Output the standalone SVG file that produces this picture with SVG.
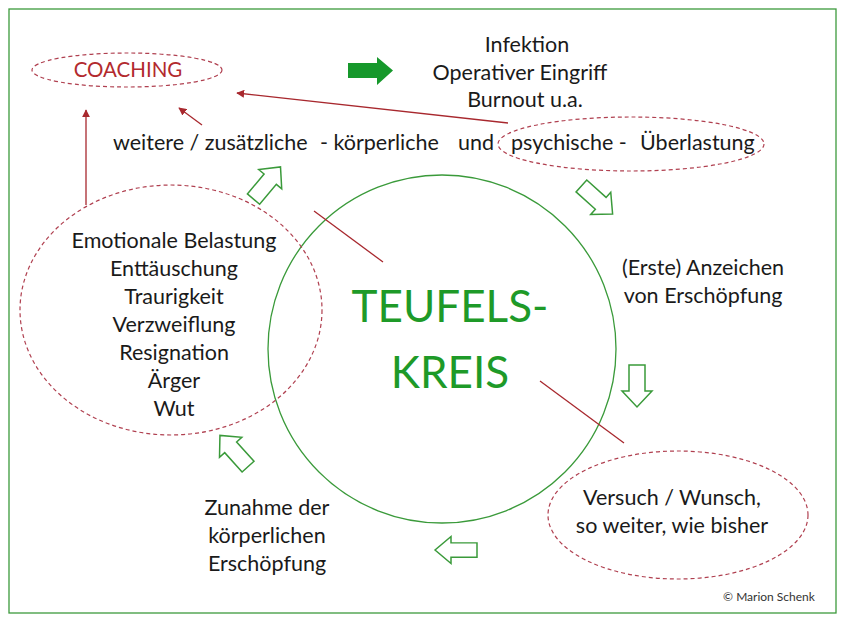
<svg xmlns="http://www.w3.org/2000/svg" width="846" height="624" viewBox="0 0 846 624">
<style>
.t{font-family:Lato,"Open Sans","Liberation Sans",sans-serif;font-size:21.5px;fill:#1a1a1a;text-anchor:middle}
.tl{font-family:Lato,"Open Sans","Liberation Sans",sans-serif;font-size:21.5px;fill:#1a1a1a}
.dash{fill:none;stroke:#b04050;stroke-width:1.2;stroke-dasharray:4 3}
.red{stroke:#a8282e;stroke-width:1.3;fill:none}
.hol{fill:#fff;stroke:#3a9a3a;stroke-width:1.5;stroke-linejoin:miter}
</style>
<defs>
<marker id="ah" viewBox="0 0 10 10" refX="9" refY="5" markerWidth="8" markerHeight="8" markerUnits="userSpaceOnUse" orient="auto">
<path d="M0,0 L10,5 L0,10 z" fill="#a8282e"/>
</marker>
<path id="blk" d="M-21,-8 L5,-8 L5,-15 L21,0 L5,15 L5,8 L-21,8 Z"/>
</defs>
<rect x="0" y="0" width="846" height="624" fill="#fff"/>
<rect x="9" y="9" width="827" height="604" fill="none" stroke="#3c9a3c" stroke-width="1.3"/>

<g id="circle">
<circle cx="442" cy="349" r="174" fill="none" stroke="#3a9a3a" stroke-width="1.3"/>
<text x="450" y="322" style="font-family:Lato,'Open Sans','Liberation Sans',sans-serif;font-size:44px;fill:#1e9a28;text-anchor:middle">TEUFELS-</text>
<text x="450" y="388" style="font-family:Lato,'Open Sans','Liberation Sans',sans-serif;font-size:44px;fill:#1e9a28;text-anchor:middle">KREIS</text>
</g>

<g id="coaching">
<ellipse class="dash" cx="127" cy="70" rx="95" ry="17"/>
<text x="128" y="77" style="font-family:Lato,'Open Sans','Liberation Sans',sans-serif;font-size:20.5px;fill:#b22a2e;text-anchor:middle">COACHING</text>
</g>

<g id="infektion">
<path d="M348,63 L377,63 L377,57 L393,70.5 L377,85 L377,78 L348,78 Z" fill="#16982b"/>
<text class="t" x="527" y="52">Infektion</text>
<text class="t" x="520" y="80">Operativer Eingriff</text>
<text class="t" x="525" y="107">Burnout u.a.</text>
</g>

<g id="ueberlastung">
<text class="tl" x="113" y="150">weitere / zusätzliche</text>
<text class="tl" x="320" y="150">- körperliche</text>
<text class="tl" x="458" y="150">und</text>
<ellipse class="dash" cx="631" cy="144" rx="133" ry="27"/>
<text class="tl" x="511" y="150">psychische -</text>
<text class="tl" x="640" y="150">Überlastung</text>
</g>

<g id="anzeichen">
<text class="t" x="703" y="275">(Erste) Anzeichen</text>
<text class="t" x="703" y="303">von Erschöpfung</text>
</g>

<g id="versuch">
<ellipse class="dash" cx="678" cy="515" rx="130" ry="64"/>
<text class="t" x="672" y="505">Versuch / Wunsch,</text>
<text class="t" x="672" y="533">so weiter, wie bisher</text>
</g>

<g id="zunahme">
<text class="t" x="267" y="515">Zunahme der</text>
<text class="t" x="267" y="543">körperlichen</text>
<text class="t" x="267" y="571">Erschöpfung</text>
</g>

<g id="emotionen">
<ellipse class="dash" cx="171" cy="310" rx="151" ry="125"/>
<text class="t" x="174" y="248">Emotionale Belastung</text>
<text class="t" x="174" y="276">Enttäuschung</text>
<text class="t" x="174" y="304">Traurigkeit</text>
<text class="t" x="174" y="332">Verzweiflung</text>
<text class="t" x="174" y="360">Resignation</text>
<text class="t" x="174" y="388">Ärger</text>
<text class="t" x="174" y="416">Wut</text>
</g>

<g id="connectors">
<use href="#blk" class="hol" transform="translate(267,183) rotate(-50)"/>
<use href="#blk" class="hol" transform="translate(597,200) rotate(42)"/>
<use href="#blk" class="hol" transform="translate(637,386) rotate(90)"/>
<use href="#blk" class="hol" transform="translate(456,550) rotate(180) scale(1,0.9)"/>
<use href="#blk" class="hol" transform="translate(234,451) rotate(-132)"/>
<line class="red" x1="314" y1="211" x2="383" y2="262"/>
<line class="red" x1="540" y1="381" x2="624" y2="443"/>
<line class="red" x1="86" y1="205" x2="86" y2="110" marker-end="url(#ah)"/>
<line class="red" x1="202" y1="125" x2="179" y2="108" marker-end="url(#ah)"/>
<line class="red" x1="508" y1="123" x2="237" y2="93" marker-end="url(#ah)"/>
</g>

<text x="769" y="601" style="font-family:Lato,'Open Sans','Liberation Sans',sans-serif;font-size:12px;fill:#333;text-anchor:middle">© Marion Schenk</text>
</svg>
